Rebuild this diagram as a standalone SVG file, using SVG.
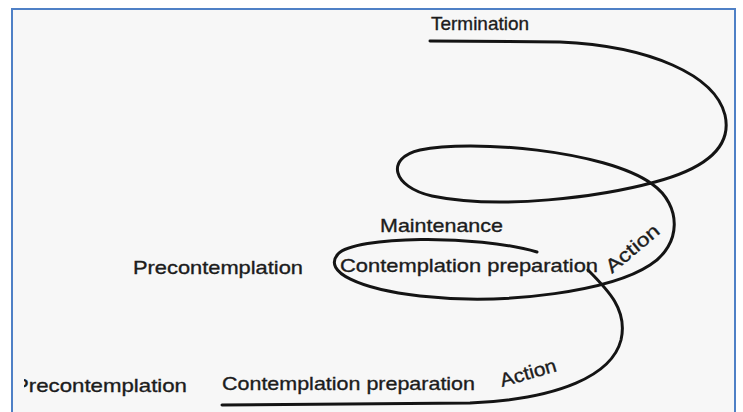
<svg xmlns="http://www.w3.org/2000/svg" width="743" height="412" viewBox="0 0 743 412">
<style>
.t{font-family:"Liberation Sans",Arial,sans-serif;font-size:19px;fill:#1c1c1c;stroke:#1c1c1c;stroke-width:0.35;}
.c{fill:none;stroke:#141414;stroke-width:3;stroke-linecap:round;stroke-linejoin:round;}
</style>
<defs>
<clipPath id="clipL"><rect x="24" y="360" width="200" height="52"/></clipPath>
</defs>
<rect x="0" y="0" width="743" height="412" fill="#ffffff"/>
<rect x="12" y="9" width="723" height="420" fill="#f7f7f7" stroke="#4f80c6" stroke-width="2"/>
<g id="connectors">
<path class="c" d="M 430 41 L 560 42 C 650 46 715 75 725 115 C 733 150 700 170 655 182 C 600 197 500 210 432 196 C 392 187 385 158 420 150 C 470 139 605 150 652 184 C 682 205 682 245 650 265 C 612 290 510 306 420 296 C 360 289 322 272 338 254 C 355 236 475 234 537 252"/>
<path class="c" d="M 222 405 L 470 403 C 560 399 612 375 621 340 C 628 310 608 290 588 270"/>
</g>
<g id="termination"><text class="t" x="431" y="30" textLength="98" lengthAdjust="spacingAndGlyphs">Termination</text></g>
<g id="maintenance"><text class="t" x="380" y="232" textLength="123" lengthAdjust="spacingAndGlyphs">Maintenance</text></g>
<g id="precontemplation-2"><text class="t" x="133" y="274" textLength="170" lengthAdjust="spacingAndGlyphs">Precontemplation</text></g>
<g id="contemplation-2"><text class="t" x="340" y="272" textLength="258" lengthAdjust="spacingAndGlyphs">Contemplation preparation</text></g>
<g id="action-2"><text class="t" x="0" y="0" textLength="64" lengthAdjust="spacingAndGlyphs" transform="translate(612 274) rotate(-40)">Action</text></g>
<g id="precontemplation-1"><text class="t" x="14" y="392" textLength="173" lengthAdjust="spacingAndGlyphs" clip-path="url(#clipL)">Precontemplation</text></g>
<g id="contemplation-1"><text class="t" x="222" y="390" textLength="253" lengthAdjust="spacingAndGlyphs">Contemplation preparation</text></g>
<g id="action-1"><text class="t" x="0" y="0" textLength="58" lengthAdjust="spacingAndGlyphs" transform="translate(502 387) rotate(-16)">Action</text></g>
</svg>
